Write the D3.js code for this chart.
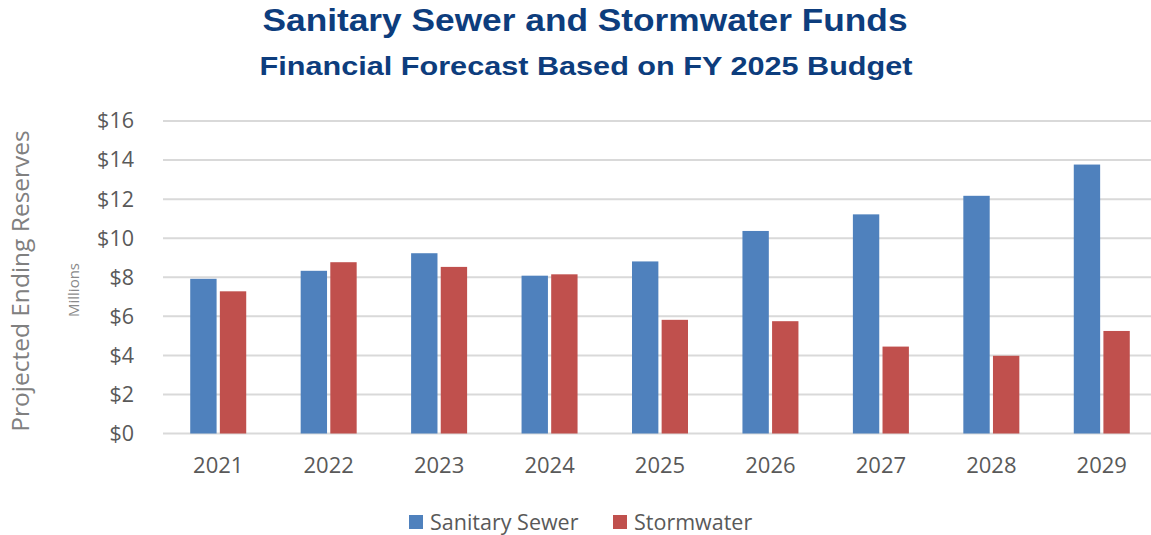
<!DOCTYPE html>
<html>
<head>
<meta charset="utf-8">
<script src="https://cdn.jsdelivr.net/npm/d3@7"></script>
<style>
  body { margin: 0; background: #fff; }
  svg text { font-family: "Open Sans", "Liberation Sans", sans-serif; }
</style>
</head>
<body>
<svg id="chart" width="1151" height="535"></svg>
<script>
const years = ["2021", "2022", "2023", "2024", "2025", "2026", "2027", "2028", "2029"]
const sanitarySewer = [7.92, 8.33, 9.23, 8.08, 8.81, 10.37, 11.22, 12.17, 13.77]
const stormwater = [7.28, 8.77, 8.53, 8.15, 5.82, 5.75, 4.45, 3.98, 5.25]
const seriesNames = ["Sanitary Sewer", "Stormwater"]
const yTicks = [0, 2, 4, 6, 8, 10, 12, 14, 16]

const colors = { "Sanitary Sewer": "#4f81bd", "Stormwater": "#c0504d" }
const tableRows = years.map((y, i) => ({ year: y, "Sanitary Sewer": sanitarySewer[i], "Stormwater": stormwater[i] }))

const svg = d3.select("#chart")

const xScale = d3.scaleBand().domain(years).range([163, 1157]).paddingInner(0).paddingOuter(0)
const yScale = d3.scaleLinear().domain([0, 16]).range([433.5, 121])
const inner = d3.scaleBand().domain(seriesNames).range([xScale.bandwidth() / 2 - 28, xScale.bandwidth() / 2 + 28]).paddingInner(0.11)

// title
svg.append("text")
  .attr("x", 585).attr("y", 31)
  .attr("text-anchor", "middle")
  .attr("textLength", 645).attr("lengthAdjust", "spacingAndGlyphs")
  .style("font-family", "'Liberation Sans', Arial, sans-serif")
  .style("font-weight", "bold").style("font-size", "31px").style("fill", "#0d3d7d")
  .text("Sanitary Sewer and Stormwater Funds")
svg.append("text")
  .attr("x", 586).attr("y", 75)
  .attr("text-anchor", "middle")
  .attr("textLength", 653).attr("lengthAdjust", "spacingAndGlyphs")
  .style("font-family", "'Liberation Sans', Arial, sans-serif")
  .style("font-weight", "bold").style("font-size", "26px").style("fill", "#0d3d7d")
  .text("Financial Forecast Based on FY 2025 Budget")

// gridlines
svg.append("g")
  .selectAll("line")
  .data(yTicks)
  .enter()
  .append("line")
  .attr("x1", 163).attr("x2", 1151)
  .attr("y1", d => yScale(d)).attr("y2", d => yScale(d))
  .style("stroke", "#d9d9d9").style("stroke-width", 2)

// y axis labels
const yAxis = svg.append("g")
  .attr("transform", "translate(148,0)")
  .call(d3.axisLeft(yScale).tickValues(yTicks).tickSize(0).tickPadding(0).tickFormat(d => "$" + d))
yAxis.select(".domain").remove()
yAxis.selectAll("text")
  .style("font-size", "21.5px").style("fill", "#595959").style("font-family", "'Open Sans', sans-serif")
  .attr("x", -14)

// x axis labels
const xAxis = svg.append("g")
  .attr("transform", "translate(0,452)")
  .call(d3.axisBottom(xScale).tickSize(0).tickPadding(0))
xAxis.select(".domain").remove()
xAxis.selectAll("text")
  .style("font-size", "22px").style("fill", "#595959").style("font-family", "'Open Sans', sans-serif")
  .attr("dy", "0.95em")

// bars
const groups = svg.append("g")
  .selectAll(".group")
  .data(tableRows)
  .enter()
  .append("g")
  .attr("transform", d => `translate(${xScale(d.year)},0)`)

groups.selectAll("rect")
  .data(d => seriesNames.map(s => ({ series: s, value: d[s] })))
  .enter()
  .append("rect")
  .attr("x", d => inner(d.series))
  .attr("width", inner.bandwidth())
  .attr("y", d => yScale(d.value))
  .attr("height", d => yScale(0) - yScale(d.value))
  .style("fill", d => colors[d.series])

// axis titles
svg.append("text")
  .attr("transform", "translate(29,281) rotate(-90)")
  .attr("text-anchor", "middle")
  .style("font-size", "24.5px").style("fill", "#808080")
  .text("Projected Ending Reserves")
svg.append("text")
  .attr("transform", "translate(79,290) rotate(-90)")
  .attr("text-anchor", "middle")
  .style("font-size", "15px").style("fill", "#8a8a8a")
  .text("Millions")

// legend
const legendX = [409, 613]
const legend = svg.append("g")
  .selectAll(".legend")
  .data(seriesNames)
  .enter()
  .append("g")
  .attr("transform", (d, i) => `translate(${legendX[i]},515)`)
legend.append("rect")
  .attr("width", 14).attr("height", 14)
  .style("fill", d => colors[d])
legend.append("text")
  .attr("x", 21).attr("y", 15)
  .style("font-size", "21.5px").style("fill", "#595959")
  .text(d => d)
</script>
</body>
</html>
